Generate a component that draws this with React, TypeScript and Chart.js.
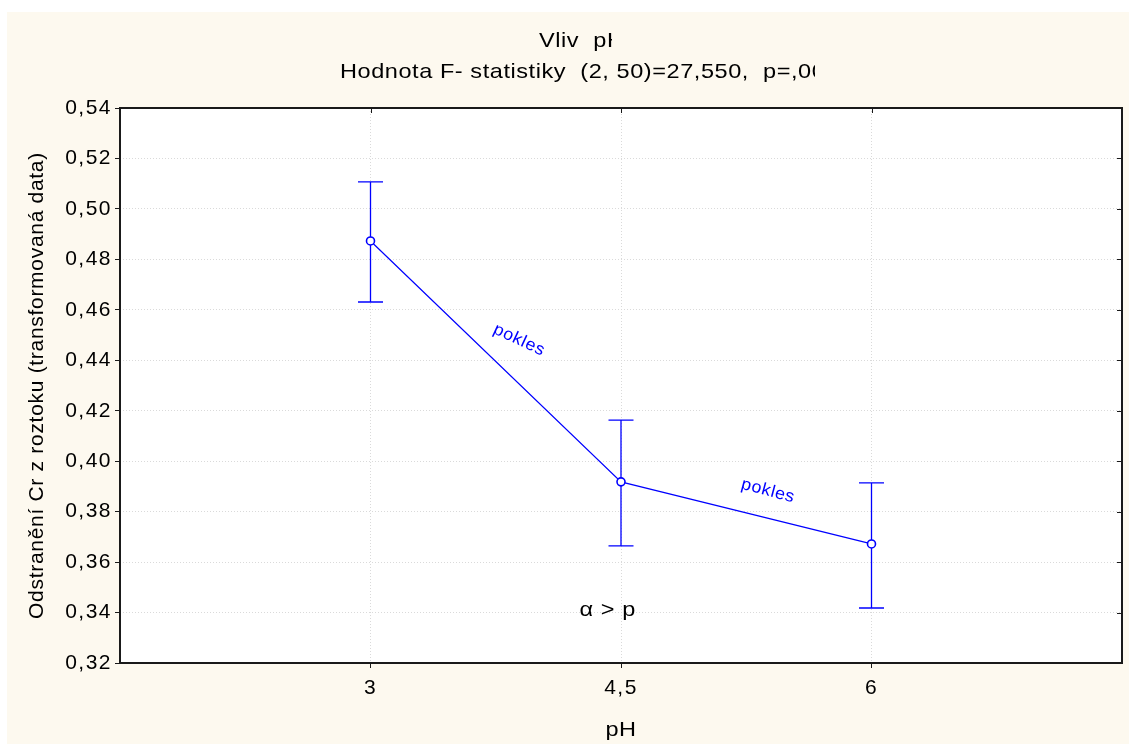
import React, { useEffect, useRef } from 'react';
import { Chart, registerables } from 'chart.js';

Chart.register(...registerables);

const phLevels = [3, 4.5, 6];
const xTickLabels = ['3', '4,5', '6'];
const means = [0.4873, 0.3918, 0.3672];
const upperCI = [0.5107, 0.4163, 0.3914];
const lowerCI = [0.4631, 0.3664, 0.3418];
const titleLines = ['Vliv  pH', 'Hodnota F- statistiky  (2, 50)=27,550,  p=,000'];
const yAxisTitle = 'Odstranění Cr z roztoku (transformovaná data)';
const xAxisTitle = 'pH';
const noteTexts = ['pokles', 'pokles', 'α > p'];
const noteX = [3.89, 5.38, 4.42];
const noteY = [0.448, 0.3882, 0.341];

const CREAM = '#fdf9ef';
const BLUE = '#0000ff';
const FONT = '"Liberation Sans", Arial, sans-serif';
const SX = 1.12;

export default function App() {
  const ref = useRef<HTMLCanvasElement>(null);

  useEffect(() => {
    document.body.style.margin = '0';
    const canvas = ref.current!;

    const stretchedText = (ctx: any, txt: string, x: number, y: number, align: string) => {
      ctx.save();
      ctx.translate(x, y);
      ctx.scale(SX, 1);
      ctx.textAlign = align;
      ctx.fillText(txt, 0, 0);
      ctx.restore();
    };

    const plugin = {
      id: 'custom',
      beforeDraw(chart: any) {
        const { ctx, chartArea: a } = chart;
        ctx.save();
        ctx.fillStyle = '#ffffff';
        ctx.fillRect(0, 0, chart.width, chart.height);
        ctx.fillStyle = CREAM;
        ctx.fillRect(7, 12, chart.width - 7, chart.height - 12);
        ctx.fillStyle = '#ffffff';
        ctx.fillRect(a.left, a.top, a.right - a.left, a.bottom - a.top);
        ctx.restore();
        ctx.letterSpacing = '1.5px';
      },
      beforeDatasetsDraw(chart: any) {
        const { ctx } = chart;
        const xs = chart.scales.x;
        const ys = chart.scales.y;
        ctx.save();
        ctx.strokeStyle = BLUE;
        ctx.lineWidth = 1.3;
        phLevels.forEach((v, i) => {
          const x = xs.getPixelForValue(v);
          const yt = ys.getPixelForValue(upperCI[i]);
          const yb = ys.getPixelForValue(lowerCI[i]);
          ctx.beginPath();
          ctx.moveTo(x, yt);
          ctx.lineTo(x, yb);
          ctx.moveTo(x - 12.5, yt);
          ctx.lineTo(x + 12.5, yt);
          ctx.moveTo(x - 12.5, yb);
          ctx.lineTo(x + 12.5, yb);
          ctx.stroke();
        });
        ctx.restore();
      },
      afterDraw(chart: any) {
        const { ctx, chartArea: a } = chart;
        const xs = chart.scales.x;
        const ys = chart.scales.y;
        ctx.save();
        // frame
        ctx.strokeStyle = '#1a1a1a';
        ctx.lineWidth = 2;
        ctx.strokeRect(a.left, a.top, a.right - a.left, a.bottom - a.top);
        // mirrored inner ticks
        ctx.lineWidth = 1;
        ctx.beginPath();
        ys.ticks.forEach((t: any) => {
          const y = Math.round(ys.getPixelForValue(t.value)) + 0.5;
          ctx.moveTo(a.right, y);
          ctx.lineTo(a.right - 5, y);
        });
        xs.ticks.forEach((t: any) => {
          const x = Math.round(xs.getPixelForValue(t.value)) + 0.5;
          ctx.moveTo(x, a.top);
          ctx.lineTo(x, a.top + 5);
        });
        ctx.stroke();

        // titles (clipped like the original)
        ctx.fillStyle = '#000000';
        ctx.font = `21px ${FONT}`;
        ctx.textBaseline = 'middle';
        ctx.letterSpacing = '0.5px';
        ctx.save();
        ctx.beginPath();
        ctx.rect(0, 20, 612, 40);
        ctx.clip();
        stretchedText(ctx, titleLines[0], 539, 41, 'left');
        ctx.restore();
        ctx.save();
        ctx.beginPath();
        ctx.rect(0, 58, 815, 30);
        ctx.clip();
        stretchedText(ctx, titleLines[1], 340, 72, 'left');
        ctx.restore();

        // axis titles
        stretchedText(ctx, xAxisTitle, (a.left + a.right) / 2, 730, 'center');
        ctx.save();
        ctx.translate(37, (a.top + a.bottom) / 2);
        ctx.rotate(-Math.PI / 2);
        ctx.textAlign = 'center';
        ctx.letterSpacing = '0.7px';
        ctx.fillText(yAxisTitle, 0, 0);
        ctx.restore();

        // annotations
        const angles = [25, 15, 0];
        const colors = [BLUE, BLUE, '#000000'];
        const sizes = [17, 17, 21];
        noteTexts.forEach((txt, i) => {
          const x = xs.getPixelForValue(noteX[i]);
          const y = ys.getPixelForValue(noteY[i]);
          ctx.save();
          ctx.translate(x, y);
          ctx.rotate((angles[i] * Math.PI) / 180);
          ctx.scale(i === 2 ? SX : 1.05, 1);
          ctx.fillStyle = colors[i];
          ctx.font = `${sizes[i]}px ${FONT}`;
          ctx.textAlign = 'center';
          ctx.letterSpacing = '0.5px';
          ctx.fillText(txt, 0, 0);
          ctx.restore();
        });
        ctx.restore();
      },
    };

    const chart = new Chart(canvas, {
      type: 'line',
      data: {
        datasets: [
          {
            data: phLevels.map((x, i) => ({ x, y: means[i] })),
            borderColor: BLUE,
            borderWidth: 1.2,
            pointRadius: 4,
            pointBackgroundColor: '#ffffff',
            pointBorderColor: BLUE,
            pointBorderWidth: 1.6,
            tension: 0,
          },
        ],
      },
      options: {
        responsive: false,
        animation: false,
        layout: { padding: { top: 108, right: 7, left: 0, bottom: 0 } },
        plugins: { legend: { display: false }, title: { display: false }, tooltip: { enabled: false } },
        scales: {
          x: {
            type: 'linear',
            min: 1.5,
            max: 7.5,
            afterBuildTicks: (scale: any) => {
              scale.ticks = phLevels.map((v) => ({ value: v }));
            },
            afterFit: (scale: any) => {
              scale.height = 81;
            },
            ticks: {
              callback: (_v: any, i: number) => xTickLabels[i],
              color: '#000000',
              font: { family: FONT, size: 21 },
              padding: 8,
              maxRotation: 0,
            },
            grid: { color: '#dadada', tickColor: '#1a1a1a', tickLength: 5, lineWidth: 1 },
            border: { display: false, dash: [1, 2] },
          },
          y: {
            type: 'linear',
            min: 0.32,
            max: 0.54,
            afterFit: (scale: any) => {
              scale.width = 120;
            },
            ticks: {
              stepSize: 0.02,
              callback: (v: any) => Number(v).toFixed(2).replace('.', ','),
              color: '#000000',
              font: { family: FONT, size: 21 },
              padding: 3,
            },
            grid: { color: '#dadada', tickColor: '#1a1a1a', tickLength: 5, lineWidth: 1 },
            border: { display: false, dash: [1, 2] },
          },
        },
      },
      plugins: [plugin],
    });
    return () => chart.destroy();
  }, []);

  return <canvas ref={ref} width={1129} height={744} style={{ display: 'block' }} />;
}
